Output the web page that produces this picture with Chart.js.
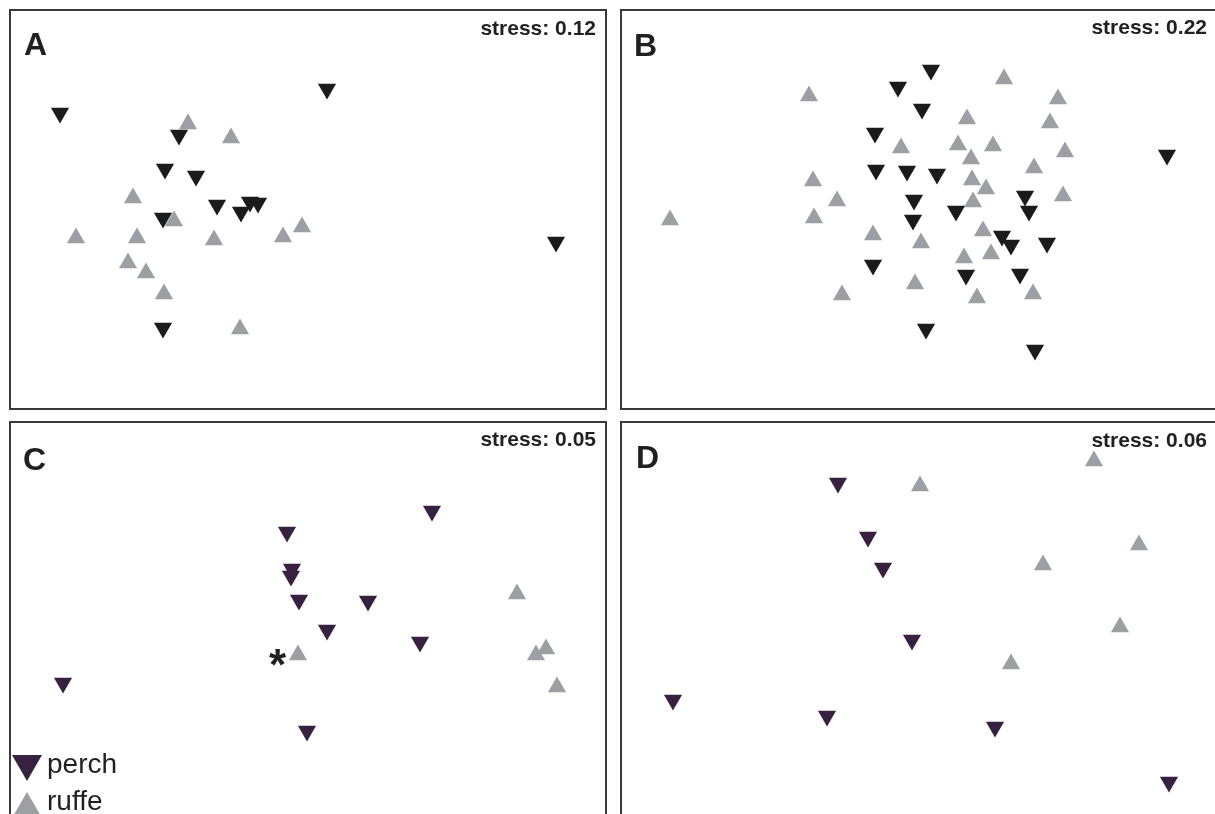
<!DOCTYPE html>
<html>
<head>
<meta charset="utf-8">
<script src="https://cdn.jsdelivr.net/npm/chart.js@4"></script>
<style>
  html, body { margin:0; padding:0; background:#fff; width:1215px; height:814px; overflow:hidden; }
  body { position:relative; font-family:"Liberation Sans", Arial, Helvetica, sans-serif; color:#231f20; }
  .cv { position:absolute; }
  .frame { position:absolute; box-sizing:border-box; border:2px solid #3a3a3a; width:598px; height:401px; pointer-events:none; }
  .lbl { position:absolute; font-weight:bold; font-size:32px; line-height:32px; white-space:nowrap; }
  .stress { position:absolute; font-weight:bold; font-size:21px; line-height:21px; width:220px; text-align:right; white-space:nowrap; }
  .leg { position:absolute; font-size:28px; line-height:28px; white-space:nowrap; }
  .tri-d { position:absolute; width:0; height:0; border-left:15px solid transparent; border-right:15px solid transparent; border-top:26px solid #382140; }
  .tri-u { position:absolute; width:0; height:0; border-left:15px solid transparent; border-right:15px solid transparent; border-bottom:26px solid #9c9fa3; }
  .ast { position:absolute; font-weight:bold; font-size:44px; line-height:44px; }
</style>
</head>
<body>
<script>
// ---- data (NMDS coordinates, panel units) ----
const panelLabels = ['A', 'B', 'C', 'D'];
const stressValues = ['0.12', '0.22', '0.05', '0.06'];
const seriesNames = ['perch', 'ruffe'];

const aPerchX = [50, 317, 169, 155, 186, 207, 231, 240, 248, 153, 546, 153];
const aPerchY = [296, 320, 274, 240, 233, 204, 197, 207, 206, 191, 167, 81];
const aRuffeX = [178, 221, 123, 164, 66, 127, 204, 273, 292, 118, 136, 154, 230];
const aRuffeY = [285, 271, 211, 188, 171, 171, 169, 172, 182, 146, 136, 115, 80];

const bPerchX = [310, 277, 301, 254, 546, 255, 286, 316, 293, 404, 335, 408, 292, 381, 390, 426, 252, 345, 399, 305, 414];
const bPerchY = [339, 322, 300, 276, 254, 239, 238, 235, 209, 213, 198, 198, 189, 173, 164, 166, 144, 134, 135, 80, 59];
const bRuffeX = [383, 188, 437, 346, 429, 280, 337, 372, 350, 444, 413, 192, 351, 365, 216, 442, 352, 49, 193, 362, 252, 300, 370, 343, 294, 221, 356, 412];
const bRuffeY = [330, 313, 310, 290, 286, 261, 264, 263, 250, 257, 241, 228, 229, 220, 208, 213, 207, 189, 191, 178, 174, 166, 155, 151, 125, 114, 111, 115];

const cPerchX = [422, 277, 282, 281, 289, 358, 317, 410, 53, 297];
const cPerchY = [310, 289, 252, 245, 221, 220, 191, 179, 138, 90];
const cRuffeX = [507, 288, 536, 526, 547];
const cRuffeY = [227, 166, 172, 166, 134];

const dPerchX = [217, 247, 262, 291, 52, 206, 374, 548];
const dPerchY = [338, 284, 253, 181, 121, 105, 94, 39];
const dRuffeX = [473, 299, 518, 422, 499, 390];
const dRuffeY = [360, 335, 276, 256, 194, 157];

// ---- layout / style ----
const panels = [
  { left: 10,  top: 10,  px: aPerchX, py: aPerchY, rx: aRuffeX, ry: aRuffeY, perchColor: '#1c1b1c', lblDx: 14, lblDy: 18, stDy: 7 },
  { left: 621, top: 10,  px: bPerchX, py: bPerchY, rx: bRuffeX, ry: bRuffeY, perchColor: '#1c1b1c', lblDx: 13, lblDy: 19, stDy: 6 },
  { left: 10,  top: 422, px: cPerchX, py: cPerchY, rx: cRuffeX, ry: cRuffeY, perchColor: '#382140', lblDx: 13, lblDy: 21, stDy: 6 },
  { left: 621, top: 422, px: dPerchX, py: dPerchY, rx: dRuffeX, ry: dRuffeY, perchColor: '#382140', lblDx: 15, lblDy: 19, stDy: 7 }
];
const W = 596, H = 399;
const ruffeColor = '#9c9fa3';

function pts(xs, ys) { return xs.map((x, i) => ({ x: x, y: ys[i] })); }

panels.forEach((p, i) => {
  const cv = document.createElement('canvas');
  cv.className = 'cv';
  cv.width = W; cv.height = H;
  cv.style.left = p.left + 'px'; cv.style.top = p.top + 'px';
  cv.style.width = W + 'px'; cv.style.height = H + 'px';
  document.body.appendChild(cv);

  new Chart(cv.getContext('2d'), {
    type: 'scatter',
    data: {
      datasets: [
        { label: seriesNames[0], data: pts(p.px, p.py), pointStyle: 'triangle', pointRotation: 180,
          pointRadius: 10.5, pointBackgroundColor: p.perchColor, pointBorderColor: p.perchColor, pointBorderWidth: 0, clip: false },
        { label: seriesNames[1], data: pts(p.rx, p.ry), pointStyle: 'triangle', pointRotation: 0,
          pointRadius: 10.5, pointBackgroundColor: ruffeColor, pointBorderColor: ruffeColor, pointBorderWidth: 0, clip: false }
      ]
    },
    options: {
      responsive: false,
      animation: false,
      events: [],
      layout: { padding: 0, autoPadding: false },
      plugins: { legend: { display: false }, tooltip: { enabled: false } },
      scales: {
        x: { type: 'linear', display: false, min: 0, max: W },
        y: { type: 'linear', display: false, min: 0, max: H }
      }
    }
  });

  const fr = document.createElement('div');
  fr.className = 'frame';
  fr.style.left = (p.left - 1) + 'px'; fr.style.top = (p.top - 1) + 'px';
  document.body.appendChild(fr);

  const lb = document.createElement('div');
  lb.className = 'lbl';
  lb.textContent = panelLabels[i];
  lb.style.left = (p.left + p.lblDx) + 'px'; lb.style.top = (p.top + p.lblDy) + 'px';
  document.body.appendChild(lb);

  const st = document.createElement('div');
  st.className = 'stress';
  st.textContent = 'stress: ' + stressValues[i];
  st.style.left = (p.left + W - 10 - 220) + 'px'; st.style.top = (p.top + p.stDy) + 'px';
  document.body.appendChild(st);
});

// asterisk marker in panel C
const ast = document.createElement('div');
ast.className = 'ast'; ast.textContent = '*';
ast.style.left = '269px'; ast.style.top = '643px';
document.body.appendChild(ast);

// legend (panel C, bottom-left)
const t1 = document.createElement('div'); t1.className = 'tri-d'; t1.style.left = '12px'; t1.style.top = '755px'; document.body.appendChild(t1);
const l1 = document.createElement('div'); l1.className = 'leg'; l1.textContent = seriesNames[0]; l1.style.left = '47px'; l1.style.top = '750px'; document.body.appendChild(l1);
const t2 = document.createElement('div'); t2.className = 'tri-u'; t2.style.left = '12px'; t2.style.top = '792px'; document.body.appendChild(t2);
const l2 = document.createElement('div'); l2.className = 'leg'; l2.textContent = seriesNames[1]; l2.style.left = '47px'; l2.style.top = '787px'; document.body.appendChild(l2);
</script>
</body>
</html>
